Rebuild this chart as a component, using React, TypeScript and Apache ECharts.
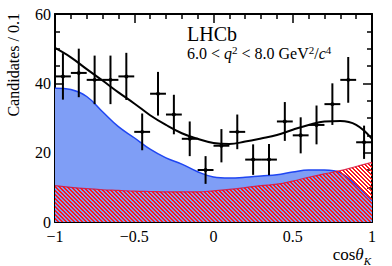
import React, { useEffect, useRef } from "react";
import * as echarts from "echarts";

// Data points (bin centres, candidates per 0.1, symmetric errors)
const binCenters = [-0.95, -0.85, -0.75, -0.65, -0.55, -0.45, -0.35, -0.25, -0.15, -0.05, 0.05, 0.15, 0.25, 0.35, 0.45, 0.55, 0.65, 0.75, 0.85, 0.95];
const counts = [42, 43, 41, 41, 42, 26, 37, 31, 24, 15, 22, 26, 18, 18, 29, 25, 28, 34, 41, 23];
const countErrors = [6.7, 7, 7, 7, 6.8, 5.3, 6.3, 5.7, 5, 4, 4.8, 5, 4.4, 4.5, 5.6, 5.2, 5.6, 6, 6.6, 4.8];
const binHalfWidth = 0.05;

// Fit curves sampled every 0.1 in cos(theta_K)
const curveX = [-1, -0.9, -0.8, -0.7, -0.6, -0.5, -0.4, -0.3, -0.2, -0.1, 0, 0.1, 0.2, 0.3, 0.4, 0.5, 0.6, 0.7, 0.8, 0.9, 1];
const totalFit = [50.2, 47.5, 44.1, 40.8, 37.4, 34.2, 30.8, 28.0, 25.6, 24.0, 22.8, 22.5, 23.2, 24.1, 25.1, 26.6, 28.0, 29.0, 29.1, 28.0, 24.0];
const signalFit = [38.6, 38.2, 36.2, 31.8, 27.5, 24.3, 21.0, 18.5, 16.7, 14.5, 13.0, 12.7, 12.9, 13.3, 13.6, 14.4, 15.0, 15.0, 14.2, 10.6, 6.2];
const backgroundFit = [10.5, 10.0, 9.6, 9.3, 9.1, 8.9, 8.8, 8.7, 8.7, 8.7, 9.0, 9.4, 9.9, 10.5, 10.9, 11.8, 12.9, 13.9, 14.8, 16.0, 17.2];

const SERIF = '"Liberation Serif", "DejaVu Serif", serif';

function makeHatch(): HTMLCanvasElement {
  const c = document.createElement("canvas");
  c.width = 4;
  c.height = 4;
  const ctx = c.getContext("2d")!;
  ctx.fillStyle = "#ff1a1a";
  for (let i = 0; i < 4; i++) {
    ctx.fillRect(i, i, 1, 1);
    ctx.fillRect((i + 1) % 4, i, 1, 1);
  }
  return c;
}

const fmt = (v: number) => (v < 0 ? "\u2212" : "") + String(Math.abs(v));

export default function App() {
  const ref = useRef<HTMLDivElement>(null);

  useEffect(() => {
    document.body.style.margin = "0";
    if (!ref.current) return;
    const chart = echarts.init(ref.current, undefined, { renderer: "svg" });
    const hatch = makeHatch();

    const axisCommon = {
      splitLine: { show: false },
      axisLine: { show: true, onZero: false, lineStyle: { color: "#000", width: 2 } },
      axisTick: { show: true, inside: true, length: 9, lineStyle: { color: "#000", width: 1.5 } },
    };

    const option: any = {
      animation: false,
      grid: { left: 55, top: 14, width: 317, height: 208 },
      xAxis: [
        {
          type: "value", min: -1, max: 1, interval: 0.5, position: "bottom",
          ...axisCommon,
          minorTick: { show: true, splitNumber: 5, length: 5, lineStyle: { color: "#000", width: 1.5 } },
          axisLabel: {
            show: true, margin: 6, color: "#000", fontFamily: SERIF, fontSize: 16,
            showMinLabel: true, showMaxLabel: true, formatter: (v: number) => fmt(v),
          },
        },
        {
          type: "value", min: -1, max: 1, interval: 0.5, position: "top",
          ...axisCommon,
          minorTick: { show: true, splitNumber: 5, length: 5, lineStyle: { color: "#000", width: 1.5 } },
          axisLabel: { show: false },
        },
      ],
      yAxis: [
        {
          type: "value", min: 0, max: 60, interval: 20, position: "left",
          ...axisCommon,
          minorTick: { show: true, splitNumber: 4, length: 5, lineStyle: { color: "#000", width: 1.5 } },
          axisLabel: {
            show: true, margin: 4, color: "#000", fontFamily: SERIF, fontSize: 16,
            showMinLabel: true, showMaxLabel: true,
          },
        },
        {
          type: "value", min: 0, max: 60, interval: 20, position: "right",
          ...axisCommon,
          minorTick: { show: true, splitNumber: 4, length: 5, lineStyle: { color: "#000", width: 1.5 } },
          axisLabel: { show: false },
        },
      ],
      series: [
        {
          type: "line", name: "signal", z: 1, smooth: 0.4, showSymbol: false,
          data: curveX.map((x, i) => [x, signalFit[i]]),
          lineStyle: { color: "#1f46f2", width: 1.5 },
          areaStyle: { color: "#7f9ef6", opacity: 1 },
        },
        {
          type: "line", name: "background", z: 2, smooth: 0.4, showSymbol: false,
          data: curveX.map((x, i) => [x, backgroundFit[i]]),
          lineStyle: { color: "rgba(215,20,60,0.85)", width: 1.2 },
          areaStyle: { color: { image: hatch, repeat: "repeat" }, opacity: 1 },
        },
        {
          type: "line", name: "total", z: 3, smooth: 0.4, showSymbol: false,
          data: curveX.map((x, i) => [x, totalFit[i]]),
          lineStyle: { color: "#000", width: 2 },
        },
        {
          type: "custom", name: "data", z: 4,
          data: binCenters.map((x, i) => [x, counts[i], countErrors[i]]),
          renderItem: (params: any, api: any) => {
            const x = api.value(0);
            const y = api.value(1);
            const e = api.value(2);
            const l = api.coord([x - binHalfWidth, y]);
            const r = api.coord([x + binHalfWidth, y]);
            const t = api.coord([x, y + e]);
            const b = api.coord([x, y - e]);
            const c = api.coord([x, y]);
            const st = { stroke: "#000", lineWidth: 2 };
            return {
              type: "group",
              children: [
                { type: "line", shape: { x1: l[0], y1: l[1], x2: r[0], y2: r[1] }, style: st },
                { type: "line", shape: { x1: t[0], y1: t[1], x2: b[0], y2: b[1] }, style: st },
                { type: "circle", shape: { cx: c[0], cy: c[1], r: 2 }, style: { fill: "#000" } },
              ],
            };
          },
        },
      ],
      graphic: [
        {
          type: "text", x: 187, y: 24,
          style: { text: "LHCb", fontFamily: SERIF, fontSize: 20, fill: "#000", verticalAlign: "top" },
        },
        {
          type: "text", x: 187, y: 44,
          style: {
            text: "{n|6.0 < }{i|q}{s|2}{n| < 8.0 GeV}{s|2}{n|/}{i|c}{s|4}",
            verticalAlign: "top",
            rich: {
              n: { fontFamily: SERIF, fontSize: 16, lineHeight: 18, fill: "#000" },
              i: { fontFamily: SERIF, fontSize: 16, lineHeight: 18, fontStyle: "italic", fill: "#000" },
              s: { fontFamily: SERIF, fontSize: 11, lineHeight: 11, verticalAlign: "top", fill: "#000" },
            },
          },
        },
        {
          type: "text", x: 371, y: 245,
          style: {
            text: "{n|cos}{i|\u03b8}{k|K}",
            align: "right", verticalAlign: "top",
            rich: {
              n: { fontFamily: SERIF, fontSize: 17, lineHeight: 18, fill: "#000" },
              i: { fontFamily: SERIF, fontSize: 17, lineHeight: 18, fontStyle: "italic", fill: "#000" },
              k: { fontFamily: SERIF, fontSize: 11, lineHeight: 11, fontStyle: "italic", verticalAlign: "bottom", fill: "#000", padding: [0, 0, -3, 0] },
            },
          },
        },
        {
          type: "text", x: 13, y: 13, rotation: Math.PI / 2,
          style: {
            text: "Candidates / 0.1", fontFamily: SERIF, fontSize: 16, fill: "#000",
            align: "right", verticalAlign: "middle",
          },
        },
      ],
    };

    chart.setOption(option);
    return () => chart.dispose();
  }, []);

  return <div ref={ref} style={{ width: 392, height: 266 }} />;
}
